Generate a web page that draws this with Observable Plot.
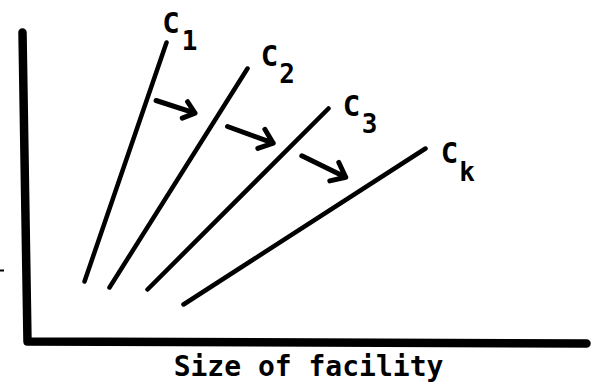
<!DOCTYPE html>
<html><head><meta charset="utf-8">
<script src="https://cdn.jsdelivr.net/npm/d3@7"></script>
<script src="https://cdn.jsdelivr.net/npm/@observablehq/plot@0.6"></script>
<style>html,body{margin:0;padding:0;background:#fff;}</style>
</head><body><div id="chart"></div>
<script>
// Cost curves C1..Ck (diagram units: x = size, y = cost)
const curves = ["C1", "C2", "C3", "Ck"];
const curveLetter = ["C", "C", "C", "C"];
const curveSub = ["1", "2", "3", "k"];
const lowSize = [84, 109, 147, 183];
const lowCost = [101, 95, 93, 78];
const highSize = [166, 247, 328, 425];
const highCost = [340, 314, 274, 234];
const labelSize = [170.5, 269, 351, 449];
const labelCost = [350, 317, 267, 220];
const subSize = [189, 286.5, 369, 466.5];
const subCost = [333, 300, 250, 202];
// Shift arrows between curves
const shiftFromSize = [155.6, 227, 301.3];
const shiftFromCost = [282, 256, 226.7];
const shiftToSize = [194.5, 272.7, 345.2];
const shiftToCost = [269.3, 239.3, 205.3];
// Hand-drawn axes (corner polyline)
const axisSize = [22, 27, 586];
const axisCost = [350, 41, 39];
const stubCost = [112];
const xLabel = ["Size of facility"];

const curveData = curves.map((c, i) => ({c, x1: lowSize[i], y1: lowCost[i], x2: highSize[i], y2: highCost[i],
  lx: labelSize[i], ly: labelCost[i], letter: curveLetter[i], sx: subSize[i], sy: subCost[i], sub: curveSub[i]}));
const arrowData = shiftFromSize.map((v, i) => ({x1: v, y1: shiftFromCost[i], x2: shiftToSize[i], y2: shiftToCost[i]}));
const axisData = axisSize.map((v, i) => ({x: v, y: axisCost[i]}));

const font = "DejaVu Sans Mono";
const chart = Plot.plot({
  width: 595, height: 382, margin: 0,
  x: {domain: [0, 595], axis: null},
  y: {domain: [0, 382], axis: null},
  style: {background: "#fff", fontFamily: font},
  marks: [
    Plot.line(axisData, {x: "x", y: "y", stroke: "#000", strokeWidth: 8.5, strokeLinecap: "round", strokeLinejoin: "round", curve: "linear"}),
    Plot.ruleY(stubCost, {x1: 0, x2: 4, stroke: "#000", strokeWidth: 2}),
    Plot.link(curveData, {x1: "x1", y1: "y1", x2: "x2", y2: "y2", stroke: "#000", strokeWidth: 4.5, strokeLinecap: "round"}),
    Plot.arrow(arrowData, {x1: "x1", y1: "y1", x2: "x2", y2: "y2", stroke: "#000", strokeWidth: 5, headAngle: 78, headLength: 30, strokeLinecap: "round", strokeLinejoin: "round"}),
    Plot.text(curveData, {x: "lx", y: "ly", text: "letter", fontSize: 29, fontWeight: "bold", fill: "#000", textAnchor: "middle", lineAnchor: "bottom", fontFamily: font}),
    Plot.text(curveData, {x: "sx", y: "sy", text: "sub", fontSize: 26, fontWeight: "bold", fill: "#000", textAnchor: "middle", lineAnchor: "bottom", fontFamily: font}),
    Plot.text(xLabel, {x: 308, y: 7, text: d => d, fontSize: 28, fontWeight: "bold", fill: "#000", textAnchor: "middle", lineAnchor: "bottom", fontFamily: font})
  ]
});
document.getElementById("chart").appendChild(chart);
</script>
</body></html>
